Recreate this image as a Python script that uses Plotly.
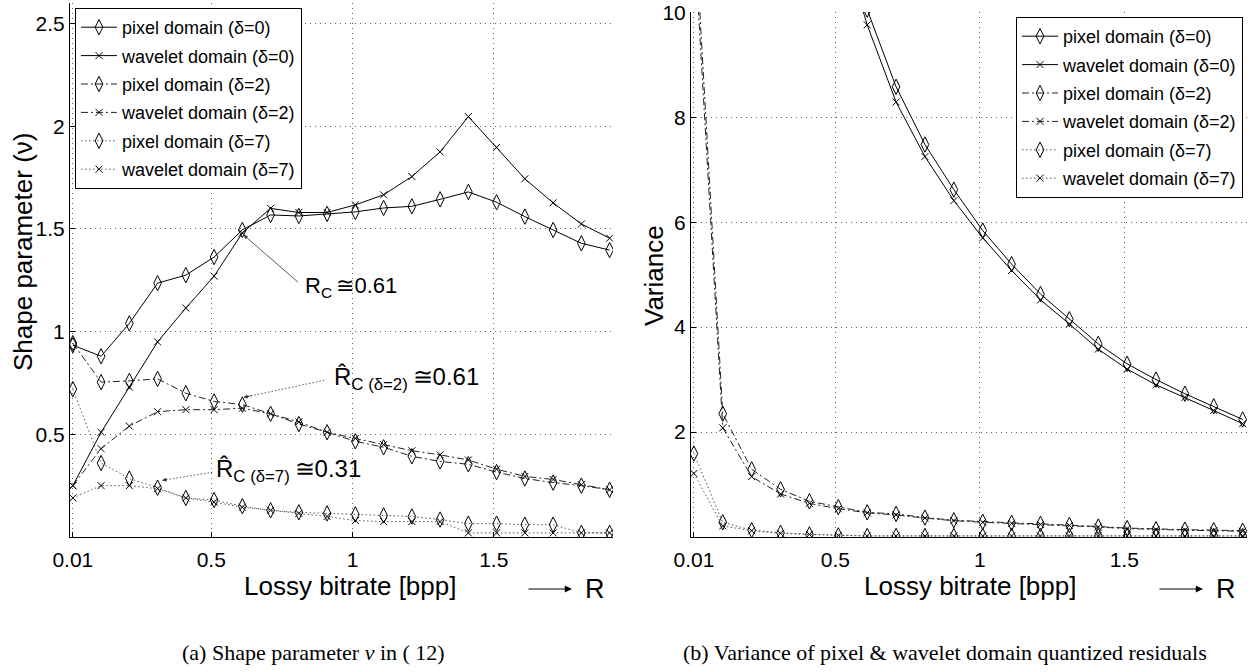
import plotly.graph_objects as go

# ---------------- data ----------------
R = [0.01, 0.11, 0.21, 0.31, 0.41, 0.51, 0.61, 0.71, 0.81, 0.91,
     1.01, 1.11, 1.21, 1.31, 1.41, 1.51, 1.61, 1.71, 1.81, 1.91]

# (a) shape parameter
nu_pix0 = [0.934, 0.88, 1.04, 1.236, 1.275, 1.363, 1.495, 1.568, 1.563, 1.573,
           1.583, 1.602, 1.61, 1.644, 1.68, 1.63, 1.56, 1.495, 1.43, 1.397]
nu_wav0 = [0.25, 0.51, 0.73, 0.95, 1.115, 1.27, 1.48, 1.60, 1.58, 1.58,
           1.617, 1.666, 1.755, 1.875, 2.047, 1.897, 1.744, 1.627, 1.524, 1.455]
nu_pix2 = [0.944, 0.754, 0.76, 0.77, 0.70, 0.66, 0.645, 0.60, 0.55, 0.51,
           0.466, 0.437, 0.393, 0.368, 0.354, 0.316, 0.285, 0.265, 0.25, 0.23]
nu_wav2 = [0.25, 0.43, 0.54, 0.61, 0.62, 0.62, 0.627, 0.60, 0.56, 0.51,
           0.48, 0.45, 0.42, 0.40, 0.375, 0.33, 0.295, 0.28, 0.255, 0.23]
nu_pix7 = [0.72, 0.36, 0.285, 0.24, 0.19, 0.18, 0.15, 0.13, 0.12, 0.115,
           0.11, 0.105, 0.10, 0.085, 0.065, 0.065, 0.06, 0.06, 0.02, 0.02]
nu_wav7 = [0.19, 0.25, 0.25, 0.235, 0.19, 0.17, 0.145, 0.13, 0.115, 0.10,
           0.08, 0.075, 0.075, 0.075, 0.02, 0.02, 0.02, 0.02, 0.02, 0.02]

# (b) variance
var_pix0 = [60, 35, 24, 18, 14.5, 12.0, 10.05, 8.58, 7.48, 6.62,
            5.84, 5.2, 4.63, 4.15, 3.68, 3.3, 3.0, 2.73, 2.49, 2.24]
var_wav0 = [55, 33, 23, 17.5, 14, 11.6, 9.76, 8.29, 7.25, 6.41,
            5.7, 5.08, 4.52, 4.06, 3.58, 3.2, 2.9, 2.66, 2.41, 2.16]
var_pix2 = [12.0, 2.35, 1.29, 0.91, 0.68, 0.57, 0.47, 0.44, 0.37, 0.32,
            0.29, 0.27, 0.25, 0.23, 0.2, 0.17, 0.15, 0.14, 0.13, 0.12]
var_wav2 = [11.5, 2.08, 1.15, 0.82, 0.64, 0.54, 0.46, 0.42, 0.36, 0.31,
            0.28, 0.26, 0.24, 0.22, 0.19, 0.16, 0.14, 0.13, 0.12, 0.11]
var_pix7 = [1.59, 0.28, 0.13, 0.08, 0.05, 0.03, 0.02, 0.02, 0.02, 0.02,
            0.02, 0.02, 0.02, 0.02, 0.02, 0.02, 0.02, 0.02, 0.02, 0.02]
var_wav7 = [1.21, 0.21, 0.12, 0.07, 0.05, 0.03, 0.02, 0.02, 0.02, 0.02,
            0.02, 0.02, 0.02, 0.02, 0.02, 0.02, 0.02, 0.02, 0.02, 0.02]

names = ["pixel domain (δ=0)", "wavelet domain (δ=0)", "pixel domain (δ=2)",
         "wavelet domain (δ=2)", "pixel domain (δ=7)", "wavelet domain (δ=7)"]

x_ticks = [0.01, 0.5, 1, 1.5]
x_ticktext = ["0.01", "0.5", "1", "1.5"]
nu_ticks = [0.5, 1, 1.5, 2, 2.5]
var_ticks = [2, 4, 6, 8, 10]

# ---------------- styles ----------------
FONT = "Liberation Sans, Arial, Helvetica, sans-serif"
SERIF = "Liberation Serif, Times New Roman, serif"
dashes = ["solid", "solid", "7px,3px,2px,3px", "7px,3px,2px,3px", "1.5px,2.5px", "1.5px,2.5px"]
symbols = ["diamond-tall-open", "x-thin-open"] * 3
msizes = [11, 7] * 3
lcolors = ["black", "black", "#222", "#222", "#555", "#555"]

fig = go.Figure()

left = [nu_pix0, nu_wav0, nu_pix2, nu_wav2, nu_pix7, nu_wav7]
right = [var_pix0, var_wav0, var_pix2, var_wav2, var_pix7, var_wav7]

for i, ys in enumerate(left):
    fig.add_trace(go.Scatter(
        x=R, y=ys, name=names[i], mode="lines+markers",
        line=dict(color=lcolors[i], width=1, dash=dashes[i]),
        marker=dict(symbol=symbols[i], size=msizes[i], color="black",
                    line=dict(width=1, color="black")),
        xaxis="x", yaxis="y", legend="legend", legendgroup="a%d" % i))

for i, ys in enumerate(right):
    fig.add_trace(go.Scatter(
        x=R, y=ys, name=names[i], mode="lines+markers",
        line=dict(color=lcolors[i], width=1, dash=dashes[i]),
        marker=dict(symbol=symbols[i], size=msizes[i], color="black",
                    line=dict(width=1, color="black")),
        xaxis="x2", yaxis="y2", legend="legend2", legendgroup="b%d" % i))

W, H = 1254, 672


def px(x):
    return x / W


def py(y):
    return 1 - y / H


axis_common = dict(
    showline=True, linecolor="black", linewidth=1, mirror=False,
    ticks="inside", ticklen=5, tickcolor="black", automargin=False,
    showgrid=True, gridcolor="#666", gridwidth=1, griddash="1px,4px",
    zeroline=False, tickfont=dict(family=FONT, size=21, color="black"),
    ticklabeloverflow="allow",
)

legend_common = dict(
    bgcolor="white", bordercolor="black", borderwidth=1,
    font=dict(family=FONT, size=18, color="black"),
    traceorder="grouped", tracegroupgap=2, itemwidth=36,
    xanchor="left", yanchor="top", xref="container", yref="container",
)

fig.update_layout(
    template="none",
    width=W, height=H,
    margin=dict(l=0, r=0, t=0, b=0, autoexpand=False),
    paper_bgcolor="white", plot_bgcolor="white",
    font=dict(family=FONT, color="black"),
    showlegend=True,
    xaxis=dict(domain=[px(70), px(613)], range=[0.0, 1.922],
               tickvals=x_ticks, ticktext=x_ticktext, anchor="y",
               ticklabelstandoff=4, **axis_common),
    yaxis=dict(domain=[py(537), py(3)], range=[0, 2.6],
               tickvals=nu_ticks, anchor="x", **axis_common),
    xaxis2=dict(domain=[px(691), px(1247)], range=[0.0, 1.925],
                tickvals=x_ticks, ticktext=x_ticktext, anchor="y2",
                ticklabelstandoff=4, **axis_common),
    yaxis2=dict(domain=[py(537), py(12)], range=[0, 10.005],
                tickvals=var_ticks, anchor="x2", **axis_common),
    legend=dict(x=px(75), y=py(8), **legend_common),
    legend2=dict(x=px(1016), y=py(17), **legend_common),
)

ann = []
# axis titles
for xc in (350, 970):
    ann.append(dict(text="Lossy bitrate [bpp]", x=px(xc), y=py(586), xref="paper", yref="paper",
                    showarrow=False, font=dict(family=FONT, size=26), xanchor="center", yanchor="middle"))
ann.append(dict(text="Shape parameter (ν)", x=px(23), y=py(252), xref="paper", yref="paper",
                showarrow=False, textangle=-90, font=dict(family=FONT, size=26),
                xanchor="center", yanchor="middle"))
ann.append(dict(text="Variance", x=px(654), y=py(275), xref="paper", yref="paper",
                showarrow=False, textangle=-90, font=dict(family=FONT, size=26),
                xanchor="center", yanchor="middle"))
# "-> R"
for head, rx in ((572, 595), (1203, 1226)):
    ann.append(dict(text="", x=px(head), y=py(589), xref="paper", yref="paper",
                    showarrow=True, ax=-45, ay=0, arrowhead=2, arrowsize=1.2, arrowwidth=1.2,
                    arrowcolor="black"))
    ann.append(dict(text="R", x=px(rx), y=py(589), xref="paper", yref="paper",
                    showarrow=False, font=dict(family=FONT, size=27), xanchor="center", yanchor="middle"))
# captions
ann.append(dict(text="(a) Shape parameter <i>ν</i> in ( 12)", x=px(313), y=py(652), xref="paper", yref="paper",
                showarrow=False, font=dict(family=SERIF, size=22), xanchor="center", yanchor="middle"))
ann.append(dict(text="(b) Variance of pixel &amp; wavelet domain quantized residuals", x=px(945), y=py(652),
                xref="paper", yref="paper", showarrow=False, font=dict(family=SERIF, size=22),
                xanchor="center", yanchor="middle"))

# R_C annotation (solid arrow)
ann.append(dict(text="", x=0.615, y=1.47, ax=0.812, ay=1.235, xref="x", yref="y", axref="x", ayref="y",
                showarrow=True, arrowhead=2, arrowsize=1, arrowwidth=0.8, arrowcolor="#333"))
ann.append(dict(text="R<sub>C</sub>\u2009≅0.61", x=0.823, y=1.217, xref="x", yref="y",
                showarrow=False, xanchor="left", yanchor="middle", font=dict(family=FONT, size=22)))

# R-hat annotations (dotted arrows)
shapes = []
for (tx, ty, hx, hy) in ((0.90, 0.763, 0.615, 0.68), (0.504, 0.315, 0.327, 0.276)):
    shapes.append(dict(type="line", xref="x", yref="y", x0=tx, y0=ty, x1=hx, y1=hy,
                       line=dict(color="#555", width=1, dash="1.5px,2px")))
    ann.append(dict(text="", x=hx, y=hy, ax=hx + 0.12 * (tx - hx), ay=hy + 0.12 * (ty - hy),
                    xref="x", yref="y", axref="x", ayref="y",
                    showarrow=True, arrowhead=2, arrowsize=1, arrowwidth=0.8, arrowcolor="#333"))
ann.append(dict(text="R̂<sub>C (δ=2)</sub>\u2009≅0.61", x=0.926, y=0.77, xref="x", yref="y",
                showarrow=False, xanchor="left", yanchor="middle", font=dict(family=FONT, size=24)))
ann.append(dict(text="R̂<sub>C (δ=7)</sub>\u2009≅0.31", x=0.511, y=0.324, xref="x", yref="y",
                showarrow=False, xanchor="left", yanchor="middle", font=dict(family=FONT, size=24)))

fig.update_layout(annotations=ann, shapes=shapes)

fig.write_html("out.html")
